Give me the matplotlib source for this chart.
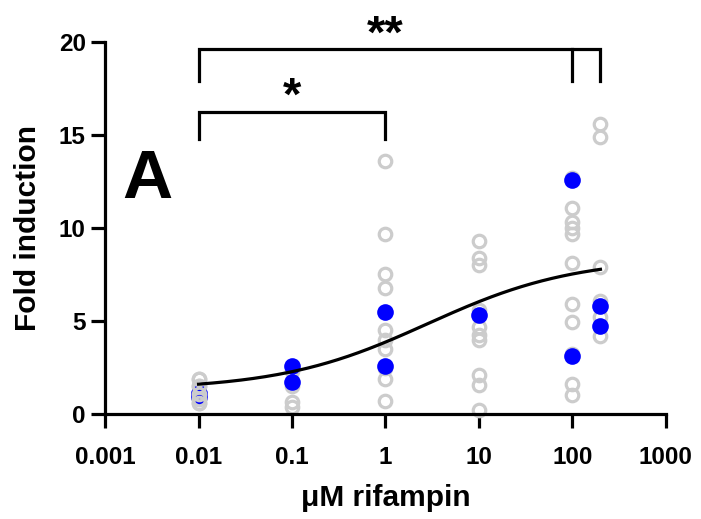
import numpy as np
import matplotlib
matplotlib.use("Agg")
import matplotlib.pyplot as plt

plt.rcParams['font.family'] = ['Liberation Sans', 'DejaVu Sans']
plt.rcParams['font.weight'] = 'bold'

# Open (gray) replicate points
gray_x = [0.01]*5 + [0.1]*4 + [1]*10 + [10]*10 + [100]*11 + [200]*6
gray_y = [1.9, 1.5, 1.1, 0.8, 0.6,
          2.3, 1.5, 0.65, 0.4,
          13.6, 9.7, 7.5, 6.8, 4.5, 4.0, 3.5, 2.5, 1.9, 0.7,
          9.3, 8.4, 8.0, 5.6, 4.7, 4.25, 4.0, 2.1, 1.55, 0.2,
          12.7, 11.1, 10.3, 10.0, 9.7, 8.1, 5.9, 4.95, 3.2, 1.6, 1.0,
          15.6, 14.9, 7.9, 6.1, 5.2, 4.2]
# Filled (blue) mean points
blue_x = [0.01, 0.01, 0.1, 0.1, 1, 1, 10, 100, 100, 200, 200]
blue_y = [1.15, 0.9, 2.6, 1.7, 5.5, 2.6, 5.3, 12.6, 3.1, 5.8, 4.75]

# Fitted 4-parameter logistic curve
fit_bottom, fit_top, fit_logec50, fit_hill = 1.3, 8.4, 0.45, 0.55
fit_range = (0.01, 200)

xticks = [0.001, 0.01, 0.1, 1, 10, 100, 1000]
xtick_labels = ['0.001', '0.01', '0.1', '1', '10', '100', '1000']
yticks = [0, 5, 10, 15, 20]

fig = plt.figure(figsize=(7.01, 5.19), dpi=100)
ax = fig.add_axes([0.150, 0.2023, 0.7997, 0.7168])

xs = np.logspace(np.log10(fit_range[0]), np.log10(fit_range[1]), 200)
ys = fit_bottom + (fit_top - fit_bottom) / (1 + 10 ** ((fit_logec50 - np.log10(xs)) * fit_hill))
ax.plot(xs, ys, color='black', lw=2.3, zorder=4)

ax.plot(gray_x, gray_y, 'o', mfc='none', mec='#cccccc', mew=2.3, ms=9.0, zorder=2, clip_on=False)
ax.plot(blue_x, blue_y, 'o', color='#0000ff', ms=12, mew=0, zorder=3, clip_on=False)
# gray rings at lowest dose sit on top of blue
g01 = [(x, y) for x, y in zip(gray_x, gray_y) if x == 0.01]
ax.plot([p[0] for p in g01], [p[1] for p in g01], 'o', mfc='none', mec='#cccccc', mew=2.3, ms=9.0, zorder=3.5)

ax.set_xscale('log')
ax.set_xlim(0.001, 1000)
ax.set_ylim(0, 20)
ax.set_xticks(xticks)
ax.set_xticklabels(xtick_labels)
ax.xaxis.set_minor_locator(matplotlib.ticker.NullLocator())
ax.set_yticks(yticks)
for s in ['top', 'right']:
    ax.spines[s].set_visible(False)
for s in ['left', 'bottom']:
    ax.spines[s].set_linewidth(2.3)
ax.tick_params(axis='both', length=10, width=2.3, labelsize=17.5, pad=4)
ax.tick_params(axis='x', pad=13)
for lab in ax.get_xticklabels() + ax.get_yticklabels():
    lab.set_fontweight('bold')
ax.set_xlabel('μM rifampin', fontsize=21.5, fontweight='bold', labelpad=11)
ax.set_ylabel('Fold induction', fontsize=21.5, fontweight='bold', labelpad=12)

# significance brackets
def bracket(x1, x2, y, h, extra=None):
    ax.plot([x1, x1, x2, x2], [y - h, y, y, y - h], color='black', lw=2.3, clip_on=False, solid_joinstyle='miter')
    if extra is not None:
        ax.plot([extra, extra], [y, y - h], color='black', lw=2.3, clip_on=False)

bracket(0.01, 1, 16.25, 1.45)
ax.text(0.1, 17.0, '*', ha='center', va='center', fontsize=34, fontweight='bold')
bracket(0.01, 200, 19.6, 1.7, extra=100)
ax.text(1, 20.35, '**', ha='center', va='center', fontsize=34, fontweight='bold', clip_on=False)

ax.text(0.0028, 12.6, 'A', ha='center', va='center', fontsize=50, fontweight='bold')

fig.savefig('out.png', dpi=100)
